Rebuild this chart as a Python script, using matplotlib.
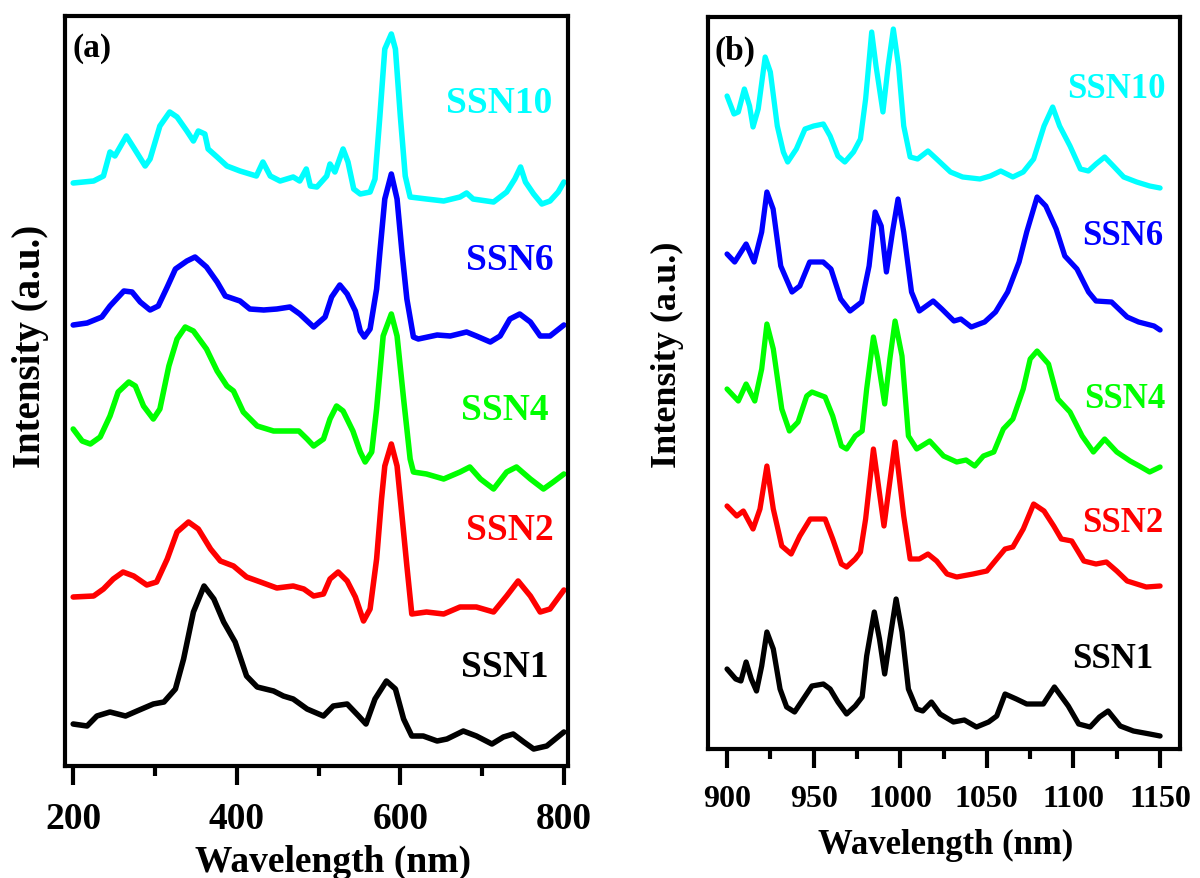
import matplotlib
matplotlib.use("Agg")
import matplotlib.pyplot as plt
from matplotlib.ticker import MultipleLocator

plt.rcParams['font.family'] = ['Liberation Serif', 'DejaVu Serif']
plt.rcParams['font.weight'] = 'bold'

# ---- panel (a): 200-800 nm, stacked spectra (a.u.)
a_ssn10_x = [200, 225, 237, 245, 251, 265, 275, 288, 294, 306, 318, 327, 339, 347, 353, 361, 365, 376, 388, 404,
             424, 432, 441, 453, 469, 477, 485, 490, 498, 510, 514, 520, 530, 536, 543, 551, 563, 569, 575, 581,
             589, 594, 600, 606, 612, 632, 653, 673, 681, 689, 714, 730, 740, 747, 753, 763, 773, 783, 793, 800]
a_ssn10_y = [583, 585, 590, 614, 610, 630, 617, 600, 607, 640, 654, 649, 635, 625, 635, 632, 617, 609, 600, 595,
             590, 604, 590, 585, 589, 585, 597, 580, 579, 590, 602, 594, 617, 604, 577, 572, 574, 587, 650, 717,
             732, 717, 650, 590, 569, 567, 565, 569, 573, 567, 564, 574, 587, 599, 584, 572, 562, 565, 574, 584]

a_ssn6_x = [200, 217, 235, 245, 262, 272, 282, 294, 304, 315, 325, 339, 349, 363, 376, 386, 404, 416, 433, 449,
            465, 477, 494, 508, 516, 526, 535, 545, 551, 556, 563, 571, 575, 581, 589, 596, 602, 608, 616, 622,
            645, 661, 681, 693, 710, 722, 734, 746, 759, 771, 783, 800]
a_ssn6_y = [441, 443, 449, 460, 475, 474, 464, 456, 460, 479, 497, 505, 509, 499, 484, 470, 465, 457, 456, 457,
            459, 452, 439, 449, 469, 481, 472, 455, 435, 429, 437, 477, 514, 567, 592, 567, 514, 467, 429, 427,
            431, 430, 434, 430, 424, 430, 447, 452, 444, 430, 430, 441]

a_ssn4_x = [200, 211, 221, 233, 245, 255, 268, 276, 286, 298, 306, 317, 327, 337, 347, 363, 376, 388, 396, 408,
            425, 445, 465, 476, 486, 494, 506, 514, 522, 530, 542, 551, 557, 565, 571, 579, 589, 596, 604, 612,
            616, 632, 653, 673, 685, 698, 714, 730, 742, 759, 775, 787, 800]
a_ssn4_y = [337, 325, 322, 329, 350, 374, 384, 380, 360, 347, 357, 400, 427, 439, 435, 417, 395, 380, 375, 354,
            340, 335, 335, 335, 327, 320, 327, 347, 360, 355, 335, 314, 304, 314, 357, 430, 452, 430, 367, 307,
            294, 292, 287, 294, 299, 287, 277, 294, 299, 287, 277, 284, 292]

a_ssn2_x = [200, 225, 237, 249, 261, 274, 290, 302, 315, 327, 341, 353, 368, 380, 396, 412, 429, 449, 469, 482,
            494, 506, 514, 524, 535, 545, 555, 563, 571, 577, 581, 589, 596, 600, 608, 614, 632, 653, 673, 693,
            714, 730, 744, 759, 771, 783, 800]
a_ssn2_y = [169, 170, 177, 187, 194, 190, 181, 184, 207, 234, 244, 237, 217, 205, 200, 189, 184, 178, 180, 177,
            170, 172, 187, 194, 185, 169, 145, 157, 207, 267, 300, 322, 300, 267, 200, 152, 154, 152, 159, 159,
            154, 170, 185, 170, 154, 157, 176]

a_ssn1_x = [200, 217, 229, 245, 264, 278, 298, 311, 325, 335, 347, 360, 372, 384, 398, 412, 425, 445, 457, 469,
            486, 506, 518, 535, 549, 558, 569, 583, 594, 604, 614, 628, 645, 657, 677, 693, 712, 726, 738, 751,
            763, 779, 800]
a_ssn1_y = [42, 40, 50, 54, 50, 55, 62, 64, 77, 107, 154, 180, 167, 144, 124, 90, 79, 75, 70, 67,
            57, 50, 60, 62, 50, 42, 67, 85, 77, 47, 30, 30, 25, 27, 35, 30, 22, 29, 32, 24,
            17, 20, 34]

# ---- panel (b): 900-1150 nm
b_ssn10_x = [900, 904, 906.5, 910, 913, 915, 918, 922, 925, 929, 932.5, 935, 940, 945, 950, 955.6, 959.5, 964, 968,
             973, 977, 980, 983.5, 986, 990, 993, 996, 999, 1002, 1005.7, 1010, 1016, 1021, 1029, 1036, 1046, 1052,
             1058, 1065, 1071, 1077, 1083, 1088, 1092, 1098, 1104, 1108.6, 1113, 1118, 1123, 1129, 1136.5, 1144, 1150]
b_ssn10_y = [653, 635, 637, 660, 643, 622, 640, 692, 677, 623, 597, 587, 600, 620, 623, 625, 613, 593, 587,
             597, 610, 650, 717, 683, 637, 683, 720, 683, 623, 592, 590, 598, 590, 577, 572, 570, 573,
             578, 572, 577, 590, 623, 642, 623, 603, 580, 578, 585, 592, 583, 572, 567, 563, 561]

b_ssn6_x = [900, 904.4, 911, 915.6, 920, 923, 926.6, 931, 937.5, 942, 947.7, 955.5, 960, 965.6, 971, 977.7, 982,
            985.5, 989, 992, 995.5, 998.7, 1002, 1006.5, 1011, 1019, 1024, 1031, 1035, 1041, 1048.7, 1055, 1062,
            1068.6, 1073, 1079, 1084, 1090, 1095, 1102, 1108.7, 1113, 1122, 1131, 1137.6, 1146.5, 1150]
b_ssn6_y = [495, 487, 505, 487, 517, 557, 540, 483, 457, 463, 487, 487, 480, 450, 438, 447, 483,
            537, 523, 477, 517, 550, 517, 457, 438, 448, 440, 428, 430, 422, 427, 437, 457,
            487, 517, 552, 543, 520, 493, 480, 457, 448, 447, 432, 427, 423, 419]

b_ssn4_x = [900, 906.5, 911, 916, 920, 923, 926.7, 931.6, 936, 941, 946, 949, 956.6, 961, 966, 969, 974, 978,
            980.6, 984.5, 987, 991, 994, 997, 1001, 1004.7, 1009.5, 1017, 1025, 1032.6, 1038, 1043, 1048, 1054,
            1059.5, 1065, 1071, 1075, 1079, 1085.6, 1091, 1098, 1105, 1111.5, 1118, 1125, 1132.7, 1138, 1144, 1150]
b_ssn4_y = [360, 348, 365, 348, 380, 425, 400, 340, 318, 327, 353, 357, 352, 333, 303, 300, 313, 318,
            360, 412, 390, 345, 390, 428, 393, 313, 300, 308, 293, 287, 289, 283, 293, 297,
            320, 330, 360, 390, 398, 385, 350, 337, 313, 297, 310, 297, 288, 283, 277, 282]

b_ssn2_x = [900, 905.6, 909.4, 915, 919, 923, 926.7, 931.6, 937, 942, 948, 956.6, 961, 966, 969, 974, 977, 980,
            984.5, 990.6, 997, 1002, 1005.7, 1011, 1016, 1021, 1027, 1032.6, 1042, 1050, 1055.7, 1060.5, 1065,
            1071, 1077, 1083, 1088.6, 1093, 1099, 1106, 1113, 1119, 1125, 1131, 1136.5, 1142, 1150]
b_ssn2_y = [243, 233, 238, 220, 240, 283, 240, 203, 195, 213, 230, 230, 210, 185, 182, 190, 197, 230,
            300, 223, 307, 233, 190, 190, 195, 188, 175, 172, 175, 178, 190, 200, 202,
            220, 245, 238, 223, 210, 208, 188, 185, 187, 178, 168, 165, 162, 163]

b_ssn1_x = [900, 905, 908, 911, 914, 917, 920, 923, 926.7, 930.6, 934.4, 939, 944, 949, 955.6, 959.5, 964, 969,
            974, 978, 980.6, 985, 988, 991, 994, 997.6, 1001, 1004.7, 1009.5, 1013, 1018, 1023, 1030.7, 1037,
            1044, 1051, 1055.7, 1060.5, 1067, 1073, 1082.6, 1089, 1097, 1103, 1109.6, 1115, 1120, 1127, 1134.6,
            1144, 1150]
b_ssn1_y = [80, 70, 68, 87, 70, 58, 83, 117, 100, 60, 42, 37, 50, 63, 65, 60, 47, 35,
            43, 52, 93, 137, 110, 75, 110, 150, 117, 60, 40, 38, 47, 35, 27, 29,
            22, 27, 33, 55, 50, 45, 45, 62, 43, 25, 22, 32, 38, 23, 18,
            15, 13]

names = ['SSN10', 'SSN6', 'SSN4', 'SSN2', 'SSN1']
colors = ['#00FFFF', '#0000FF', '#00FF00', '#FF0000', '#000000']

W, H = 1200, 879
fig = plt.figure(figsize=(W / 100, H / 100), dpi=100)


def px_axes(l, t, r, b):
    return fig.add_axes([l / W, 1 - b / H, (r - l) / W, (b - t) / H])


ax1 = px_axes(65, 17, 568, 767)
ax2 = px_axes(708, 18, 1180, 750)

a_data = [(a_ssn10_x, a_ssn10_y), (a_ssn6_x, a_ssn6_y), (a_ssn4_x, a_ssn4_y),
          (a_ssn2_x, a_ssn2_y), (a_ssn1_x, a_ssn1_y)]
b_data = [(b_ssn10_x, b_ssn10_y), (b_ssn6_x, b_ssn6_y), (b_ssn4_x, b_ssn4_y),
          (b_ssn2_x, b_ssn2_y), (b_ssn1_x, b_ssn1_y)]

for (x, y), c in zip(a_data, colors):
    ax1.plot(x, y, color=c, lw=4.0, solid_joinstyle='round', solid_capstyle='round')
for (x, y), c in zip(b_data, colors):
    ax2.plot(x, y, color=c, lw=3.8, solid_joinstyle='round', solid_capstyle='round')

# sample labels (x, baseline) in data units
a_lab = [(786, 654), (788, 497), (781, 347), (787, 227), (781, 90)]
b_lab = [(1153, 652), (1152, 505), (1153, 342), (1152, 218), (1146, 82)]
for (lx, ly), n, c in zip(a_lab, names, colors):
    ax1.text(lx, ly, n, color=c, fontsize=27, fontweight='bold', ha='right', va='baseline')
for (lx, ly), n, c in zip(b_lab, names, colors):
    ax2.text(lx, ly, n, color=c, fontsize=25, fontweight='bold', ha='right', va='baseline')

ax1.set_xlim(190, 805)
ax1.set_ylim(0, 750)
ax2.set_xlim(889, 1161.5)
ax2.set_ylim(0, 732)

ax1.xaxis.set_major_locator(MultipleLocator(200))
ax1.xaxis.set_minor_locator(MultipleLocator(100))
ax2.xaxis.set_major_locator(MultipleLocator(50))
ax2.xaxis.set_minor_locator(MultipleLocator(25))

for ax, fs, pad in [(ax1, 27, 11), (ax2, 23, 11)]:
    ax.set_yticks([])
    for s in ax.spines.values():
        s.set_linewidth(3)
    ax.tick_params(axis='x', which='major', direction='out', length=14, width=3,
                   labelsize=fs, pad=pad)
    ax.tick_params(axis='x', which='minor', direction='out', length=7, width=3)
    for lb in ax.get_xticklabels():
        lb.set_fontweight('bold')


def ftext(x, y, s, **kw):
    fig.text(x / W, 1 - y / H, s, fontweight='bold', **kw)


ftext(31, 346, 'Intensity (a.u.)', rotation=90, fontsize=28, ha='center', va='center')
ftext(667, 355, 'Intensity (a.u.)', rotation=90, fontsize=26, ha='center', va='center')
ftext(333, 862, 'Wavelength (nm)', fontsize=27, ha='center', va='center')
ftext(946, 845, 'Wavelength (nm)', fontsize=25, ha='center', va='center')
ftext(73, 49, '(a)', fontsize=24, ha='left', va='center')
ftext(715, 51, '(b)', fontsize=24, ha='left', va='center')

fig.savefig('out.png', dpi=100)
